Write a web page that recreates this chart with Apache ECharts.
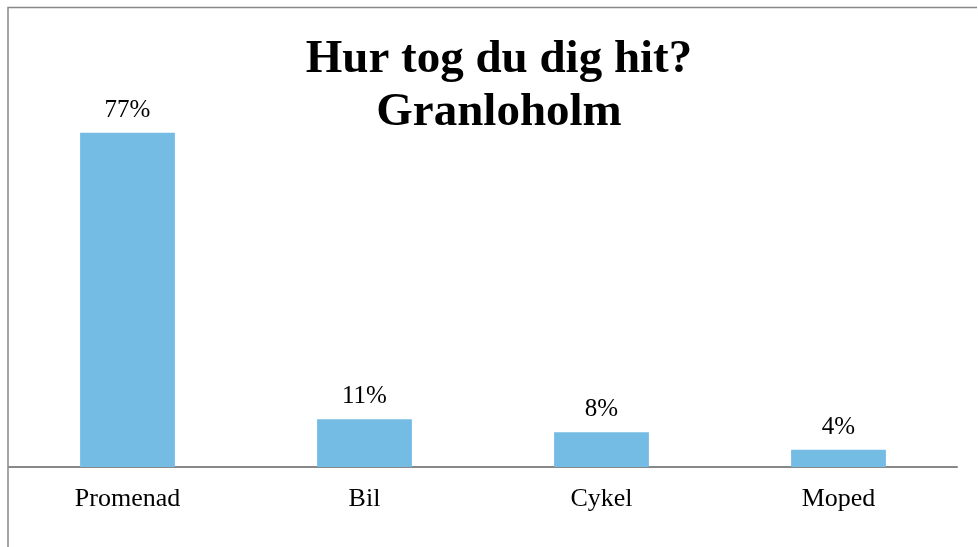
<!DOCTYPE html>
<html>
<head>
<meta charset="utf-8">
<script src="https://cdn.jsdelivr.net/npm/echarts@6/dist/echarts.min.js"></script>
<style>
html, body { margin: 0; padding: 0; background: #fff; }
#chart { width: 978px; height: 547px; }
</style>
</head>
<body>
<div id="chart"></div>
<script>
'use strict';
// data
var categories = ['Promenad', 'Bil', 'Cykel', 'Moped'];
var values = [77, 11, 8, 4];
var titleText = 'Hur tog du dig hit?\nGranloholm';

var chart = echarts.init(document.getElementById('chart'));
var option = {
	animation: false,
	title: {
		text: titleText,
		left: 494,
		top: 28,
		textAlign: 'center',
		textStyle: {
			fontFamily: 'Liberation Serif',
			fontWeight: 'bold',
			fontSize: 47,
			lineHeight: 53,
			color: '#000'
		}
	},
	graphic: [{
		type: 'polyline',
		shape: { points: [[8, 560], [8, 7.5], [977, 7.5]] },
		style: { stroke: '#888', lineWidth: 1.5, fill: null }
	}],
	grid: { left: 9, right: 21, top: 33, bottom: 80 },
	xAxis: {
		type: 'category',
		data: categories,
		axisLine: { lineStyle: { color: '#888', width: 2 } },
		axisTick: { show: false },
		axisLabel: {
			margin: 19,
			color: '#000',
			fontFamily: 'Liberation Serif',
			fontSize: 26
		}
	},
	yAxis: {
		type: 'value',
		min: 0,
		max: 100,
		show: false,
		splitLine: { show: false }
	},
	series: [{
		type: 'bar',
		data: values,
		barWidth: '40%',
		itemStyle: { color: '#75BCE4' },
		label: {
			show: true,
			position: 'top',
			distance: 10,
			formatter: '{c}%',
			color: '#000',
			fontFamily: 'Liberation Serif',
			fontSize: 25
		}
	}]
};
chart.setOption(option);
</script>
</body>
</html>
